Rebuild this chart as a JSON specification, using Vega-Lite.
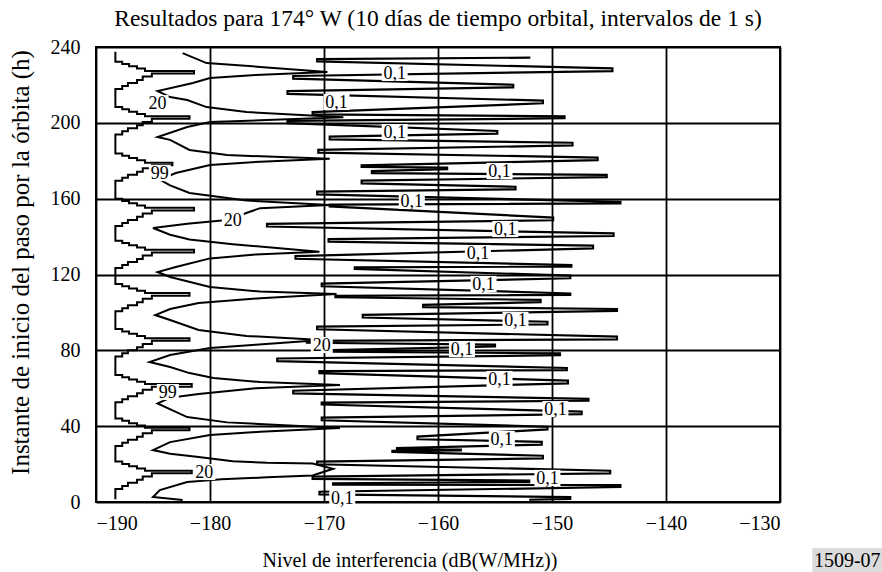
{
  "$schema": "https://vega.github.io/schema/vega-lite/v6.json",
  "width": 684,
  "height": 455,
  "autosize": {"type": "none"},
  "padding": {"left": 96, "top": 47, "right": 102, "bottom": 70},
  "background": "white",
  "title": {"text": "Resultados para 174° W (10 días de tiempo orbital, intervalos de 1 s)", "font": "Liberation Serif", "fontSize": 23.5, "fontWeight": "normal", "color": "black", "anchor": "middle", "offset": 7},
  "config": {
    "font": "Liberation Serif",
    "view": {"stroke": "black", "strokeWidth": 2},
    "axis": {"grid": true, "gridColor": "black", "gridWidth": 1.8, "gridOpacity": 1, "domain": false, "ticks": false, "labelFont": "Liberation Serif", "labelFontSize": 20, "labelColor": "black", "titleFont": "Liberation Serif", "titleFontSize": 20, "titleFontWeight": "normal", "titleColor": "black"}
  },
  "datasets": {
    "c99": [
      {"i":0,"x":-188.3,"h":237.5},
      {"i":1,"x":-188.3,"h":232.2},{"i":2,"x":-187.7,"h":231},{"i":3,"x":-187.1,"h":229.8},{"i":4,"x":-186.4,"h":228.6},{"i":5,"x":-185.7,"h":227.4},{"i":6,"x":-181.4,"h":226},{"i":7,"x":-185.1,"h":224.4},{"i":8,"x":-185.9,"h":222.6},{"i":9,"x":-186.4,"h":221},{"i":10,"x":-187.2,"h":219.4},{"i":11,"x":-187.7,"h":217.8},
      {"i":12,"x":-188.3,"h":208.3},{"i":13,"x":-187.7,"h":207.1},{"i":14,"x":-187.1,"h":205.9},{"i":15,"x":-186.4,"h":204.7},{"i":16,"x":-185.7,"h":203.5},{"i":17,"x":-181.8,"h":202.1},{"i":18,"x":-185.1,"h":200.5},{"i":19,"x":-185.9,"h":198.7},{"i":20,"x":-186.4,"h":197.1},{"i":21,"x":-187.2,"h":195.5},{"i":22,"x":-187.7,"h":193.9},
      {"i":23,"x":-188.3,"h":183.8},{"i":24,"x":-187.7,"h":182.6},{"i":25,"x":-187.1,"h":181.4},{"i":26,"x":-186.4,"h":180.2},{"i":27,"x":-185.7,"h":179},{"i":28,"x":-183.3,"h":177.6},{"i":29,"x":-185.1,"h":176},{"i":30,"x":-185.9,"h":174.2},{"i":31,"x":-186.4,"h":172.6},{"i":32,"x":-187.2,"h":171},{"i":33,"x":-187.7,"h":169.4},
      {"i":34,"x":-188.3,"h":160},{"i":35,"x":-187.7,"h":158.8},{"i":36,"x":-187.1,"h":157.6},{"i":37,"x":-186.4,"h":156.4},{"i":38,"x":-185.7,"h":155.2},{"i":39,"x":-181.4,"h":153.8},{"i":40,"x":-185.1,"h":152.2},{"i":41,"x":-185.9,"h":150.4},{"i":42,"x":-186.4,"h":148.8},{"i":43,"x":-187.2,"h":147.2},{"i":44,"x":-187.7,"h":145.6},
      {"i":45,"x":-188.3,"h":137.8},{"i":46,"x":-187.7,"h":136.6},{"i":47,"x":-187.1,"h":135.4},{"i":48,"x":-186.4,"h":134.2},{"i":49,"x":-185.7,"h":133},{"i":50,"x":-181.4,"h":131.6},{"i":51,"x":-185.1,"h":130},{"i":52,"x":-185.9,"h":128.2},{"i":53,"x":-186.4,"h":126.6},{"i":54,"x":-187.2,"h":125},{"i":55,"x":-187.7,"h":123.4},
      {"i":56,"x":-188.3,"h":115},{"i":57,"x":-187.7,"h":113.8},{"i":58,"x":-187.1,"h":112.6},{"i":59,"x":-186.4,"h":111.4},{"i":60,"x":-185.7,"h":110.2},{"i":61,"x":-181.8,"h":108.8},{"i":62,"x":-185.1,"h":107.2},{"i":63,"x":-185.9,"h":105.4},{"i":64,"x":-186.4,"h":103.8},{"i":65,"x":-187.2,"h":102.2},{"i":66,"x":-187.7,"h":100.6},
      {"i":67,"x":-188.3,"h":91.2},{"i":68,"x":-187.7,"h":90},{"i":69,"x":-187.1,"h":88.8},{"i":70,"x":-186.4,"h":87.6},{"i":71,"x":-185.7,"h":86.4},{"i":72,"x":-181.8,"h":85},{"i":73,"x":-185.1,"h":83.4},{"i":74,"x":-185.9,"h":81.6},{"i":75,"x":-186.4,"h":80},{"i":76,"x":-187.2,"h":78.4},{"i":77,"x":-187.7,"h":76.8},
      {"i":78,"x":-188.3,"h":67},{"i":79,"x":-187.7,"h":65.8},{"i":80,"x":-187.1,"h":64.6},{"i":81,"x":-186.4,"h":63.4},{"i":82,"x":-185.7,"h":62.2},{"i":83,"x":-181.6,"h":60.8},{"i":84,"x":-185.1,"h":59.2},{"i":85,"x":-185.9,"h":57.4},{"i":86,"x":-186.4,"h":55.8},{"i":87,"x":-187.2,"h":54.2},{"i":88,"x":-187.7,"h":52.6},
      {"i":89,"x":-188.3,"h":44},{"i":90,"x":-187.7,"h":42.8},{"i":91,"x":-187.1,"h":41.6},{"i":92,"x":-186.4,"h":40.4},{"i":93,"x":-185.7,"h":39.2},{"i":94,"x":-181.8,"h":37.8},{"i":95,"x":-185.1,"h":36.2},{"i":96,"x":-185.9,"h":34.4},{"i":97,"x":-186.4,"h":32.8},{"i":98,"x":-187.2,"h":31.2},{"i":99,"x":-187.7,"h":29.6},
      {"i":100,"x":-188.3,"h":21.3},{"i":101,"x":-187.7,"h":20.1},{"i":102,"x":-187.1,"h":18.9},{"i":103,"x":-186.4,"h":17.7},{"i":104,"x":-185.7,"h":16.5},{"i":105,"x":-181.6,"h":15.1},{"i":106,"x":-185.1,"h":13.5},{"i":107,"x":-185.9,"h":11.7},{"i":108,"x":-186.4,"h":10.1},{"i":109,"x":-187.2,"h":8.5},{"i":110,"x":-187.7,"h":6.9},
      {"i":111,"x":-188.3,"h":1.5}
    ],
    "c20": [
      {"i":1,"x":-182.4,"h":236.8},{"i":2,"x":-180.3,"h":231.5},{"i":3,"x":-175.6,"h":229.5},{"i":4,"x":-169.7,"h":226.8},{"i":5,"x":-176.0,"h":225.2},{"i":6,"x":-180.0,"h":223.6},{"i":7,"x":-181.5,"h":221.0},{"i":8,"x":-184.6,"h":216.8},{"i":9,"x":-183.5,"h":213.6},{"i":10,"x":-182.0,"h":212.0},
      {"i":11,"x":-180.3,"h":208.3},{"i":12,"x":-176.8,"h":205.7},{"i":13,"x":-168.3,"h":203.0},{"i":14,"x":-175.0,"h":201.5},{"i":15,"x":-180.0,"h":200.4},{"i":16,"x":-182.0,"h":197.8},{"i":17,"x":-184.6,"h":192.5},{"i":18,"x":-183.5,"h":191.0},{"i":19,"x":-181.8,"h":185.7},{"i":20,"x":-178.5,"h":183.0},
      {"i":21,"x":-169.5,"h":181.0},{"i":22,"x":-175.6,"h":179.5},{"i":23,"x":-180.0,"h":177.7},{"i":24,"x":-183.0,"h":173.5},{"i":25,"x":-184.4,"h":170.0},{"i":26,"x":-183.5,"h":167.0},{"i":27,"x":-181.8,"h":163.0},{"i":28,"x":-176.8,"h":159.0},{"i":29,"x":-169.5,"h":156.6},{"i":30,"x":-175.6,"h":155.0},
      {"i":31,"x":-177.5,"h":151.0},{"i":32,"x":-178.5,"h":148.7},{"i":33,"x":-182.0,"h":146.8},{"i":34,"x":-185.0,"h":144.5},{"i":35,"x":-183.5,"h":141.0},{"i":36,"x":-181.8,"h":138.5},{"i":37,"x":-178.0,"h":136.0},{"i":38,"x":-170.4,"h":132.0},{"i":39,"x":-176.0,"h":130.5},{"i":40,"x":-180.0,"h":128.5},
      {"i":41,"x":-183.0,"h":124.0},{"i":42,"x":-184.6,"h":121.3},{"i":43,"x":-183.5,"h":118.7},{"i":44,"x":-180.0,"h":113.4},{"i":45,"x":-175.6,"h":111.0},{"i":46,"x":-168.9,"h":109.7},{"i":47,"x":-175.6,"h":107.5},{"i":48,"x":-181.0,"h":105.0},{"i":49,"x":-183.5,"h":101.8},{"i":50,"x":-184.8,"h":98.6},
      {"i":51,"x":-183.5,"h":96.0},{"i":52,"x":-181.0,"h":90.7},{"i":53,"x":-176.8,"h":87.6},{"i":54,"x":-170.2,"h":85.5},{"i":55,"x":-176.0,"h":83.0},{"i":56,"x":-180.0,"h":81.2},{"i":57,"x":-183.5,"h":77.5},{"i":58,"x":-185.3,"h":73.8},{"i":59,"x":-183.5,"h":71.2},{"i":60,"x":-181.8,"h":68.0},
      {"i":61,"x":-179.7,"h":65.4},{"i":62,"x":-175.6,"h":63.3},{"i":63,"x":-168.6,"h":61.7},{"i":64,"x":-176.0,"h":60.0},{"i":65,"x":-181.0,"h":57.0},{"i":66,"x":-183.5,"h":55.0},{"i":67,"x":-184.6,"h":52.0},{"i":68,"x":-182.0,"h":44.8},{"i":69,"x":-178.5,"h":42.0},{"i":70,"x":-168.6,"h":39.0},
      {"i":71,"x":-175.6,"h":37.0},{"i":72,"x":-180.0,"h":35.3},{"i":73,"x":-183.5,"h":31.6},{"i":74,"x":-185.0,"h":27.4},{"i":75,"x":-183.5,"h":25.5},{"i":76,"x":-181.0,"h":23.7},{"i":77,"x":-178.0,"h":21.5},{"i":78,"x":-175.0,"h":20.7},{"i":79,"x":-171.0,"h":20.3},{"i":80,"x":-169.2,"h":17.5},
      {"i":81,"x":-171.0,"h":14.0},{"i":82,"x":-175.0,"h":13.0},{"i":83,"x":-179.0,"h":12.0},{"i":84,"x":-182.0,"h":10.5},{"i":85,"x":-184.4,"h":6.3},{"i":86,"x":-185.0,"h":2.6},{"i":87,"x":-182.4,"h":1.0}
    ],
    "c01": [
      {"i":1,"x":-151.9,"h":234.4},
      {"i":2,"x":-170.6,"h":233.6},{"i":3,"x":-170.6,"h":232.4},
      {"i":4,"x":-144.7,"h":228.7},{"i":5,"x":-144.7,"h":227.3},
      {"i":6,"x":-172.7,"h":224.7},{"i":7,"x":-172.7,"h":223.3},
      {"i":8,"x":-153.4,"h":220.1},{"i":9,"x":-153.4,"h":218.7},
      {"i":10,"x":-173.2,"h":216.7},{"i":11,"x":-173.2,"h":215.3},
      {"i":12,"x":-150.8,"h":211.7},{"i":13,"x":-150.8,"h":210.3},
      {"i":14,"x":-171.0,"h":205.7},{"i":15,"x":-171.0,"h":204.5},
      {"i":16,"x":-148.9,"h":203.4},{"i":17,"x":-148.9,"h":202.4},
      {"i":18,"x":-173.2,"h":201.0},{"i":19,"x":-173.2,"h":199.8},
      {"i":20,"x":-154.8,"h":195.7},{"i":21,"x":-154.8,"h":194.3},
      {"i":22,"x":-169.5,"h":192.7},{"i":23,"x":-169.5,"h":191.3},
      {"i":24,"x":-148.2,"h":189.5},{"i":25,"x":-148.2,"h":188.1},
      {"i":26,"x":-170.5,"h":185.7},{"i":27,"x":-170.5,"h":184.3},
      {"i":28,"x":-146.0,"h":181.7},{"i":29,"x":-146.0,"h":180.3},
      {"i":30,"x":-166.7,"h":177.6},{"i":31,"x":-166.7,"h":176.8},
      {"i":32,"x":-159.2,"h":176.4},{"i":33,"x":-159.2,"h":175.6},
      {"i":34,"x":-165.8,"h":174.5},{"i":35,"x":-165.8,"h":173.5},
      {"i":36,"x":-145.2,"h":172.6},{"i":37,"x":-145.2,"h":171.4},
      {"i":38,"x":-166.7,"h":169.5},{"i":39,"x":-166.7,"h":168.1},
      {"i":40,"x":-153.2,"h":166.3},{"i":41,"x":-153.2,"h":164.9},
      {"i":42,"x":-170.6,"h":163.7},{"i":43,"x":-170.6,"h":162.3},
      {"i":44,"x":-144.0,"h":158.3},{"i":45,"x":-144.0,"h":157.5},
      {"i":46,"x":-169.5,"h":156.9},{"i":47,"x":-169.5,"h":155.9},
      {"i":48,"x":-149.9,"h":150.0},{"i":49,"x":-149.9,"h":148.6},
      {"i":50,"x":-175.0,"h":146.7},{"i":51,"x":-175.0,"h":145.3},
      {"i":52,"x":-144.6,"h":141.7},{"i":53,"x":-144.6,"h":140.3},
      {"i":54,"x":-169.6,"h":138.7},{"i":55,"x":-169.6,"h":137.3},
      {"i":56,"x":-146.4,"h":135.2},{"i":57,"x":-146.4,"h":133.8},
      {"i":58,"x":-172.5,"h":129.7},{"i":59,"x":-172.5,"h":128.3},
      {"i":60,"x":-148.3,"h":125.0},{"i":61,"x":-148.3,"h":124.2},
      {"i":62,"x":-167.3,"h":123.8},{"i":63,"x":-167.3,"h":123.0},
      {"i":64,"x":-148.4,"h":119.4},{"i":65,"x":-148.4,"h":118.0},
      {"i":66,"x":-170.2,"h":115.2},{"i":67,"x":-170.2,"h":113.8},
      {"i":68,"x":-148.4,"h":110.0},{"i":69,"x":-148.4,"h":109.2},
      {"i":70,"x":-169.0,"h":108.8},{"i":71,"x":-169.0,"h":108.0},
      {"i":72,"x":-151.0,"h":106.6},{"i":73,"x":-151.0,"h":105.4},
      {"i":74,"x":-161.3,"h":104.0},{"i":75,"x":-161.3,"h":102.8},
      {"i":76,"x":-144.3,"h":101.8},{"i":77,"x":-144.3,"h":100.8},
      {"i":78,"x":-166.6,"h":98.7},{"i":79,"x":-166.6,"h":97.3},
      {"i":80,"x":-150.4,"h":95.1},{"i":81,"x":-150.4,"h":93.7},
      {"i":82,"x":-170.6,"h":92.5},{"i":83,"x":-170.6,"h":91.1},
      {"i":84,"x":-144.3,"h":87.2},{"i":85,"x":-144.3,"h":85.8},
      {"i":86,"x":-171.5,"h":85.0},{"i":87,"x":-171.5,"h":84.0},
      {"i":88,"x":-155.0,"h":83.0},{"i":89,"x":-155.0,"h":82.0},
      {"i":90,"x":-169.3,"h":80.1},{"i":91,"x":-169.3,"h":79.3},
      {"i":92,"x":-149.3,"h":78.4},{"i":93,"x":-149.3,"h":77.4},
      {"i":94,"x":-174.1,"h":75.7},{"i":95,"x":-174.1,"h":74.3},
      {"i":96,"x":-148.7,"h":70.7},{"i":97,"x":-148.7,"h":69.5},
      {"i":98,"x":-170.4,"h":69.0},{"i":99,"x":-170.4,"h":68.0},
      {"i":100,"x":-148.6,"h":64.0},{"i":101,"x":-148.6,"h":62.6},
      {"i":102,"x":-172.7,"h":58.7},{"i":103,"x":-172.7,"h":57.3},
      {"i":104,"x":-146.8,"h":54.4},{"i":105,"x":-146.8,"h":53.4},
      {"i":106,"x":-170.2,"h":52.4},{"i":107,"x":-170.2,"h":51.4},
      {"i":108,"x":-147.4,"h":47.7},{"i":109,"x":-147.4,"h":46.3},
      {"i":110,"x":-170.2,"h":44.5},{"i":111,"x":-170.2,"h":43.1},
      {"i":112,"x":-150.4,"h":39.7},{"i":113,"x":-150.4,"h":38.3},
      {"i":114,"x":-161.8,"h":34.5},{"i":115,"x":-161.8,"h":33.1},
      {"i":116,"x":-150.9,"h":31.7},{"i":117,"x":-150.9,"h":30.3},
      {"i":118,"x":-163.6,"h":28.4},{"i":119,"x":-163.6,"h":27.8},
      {"i":120,"x":-158.0,"h":27.6},{"i":121,"x":-158.0,"h":27.2},
      {"i":122,"x":-164.0,"h":27.0},{"i":123,"x":-164.0,"h":26.4},
      {"i":124,"x":-150.8,"h":24.4},{"i":125,"x":-150.8,"h":23.0},
      {"i":126,"x":-170.6,"h":21.3},{"i":127,"x":-170.6,"h":19.9},
      {"i":128,"x":-144.9,"h":16.5},{"i":129,"x":-144.9,"h":15.1},
      {"i":130,"x":-171.0,"h":13.4},{"i":131,"x":-171.0,"h":12.2},
      {"i":132,"x":-152.0,"h":11.3},{"i":133,"x":-152.0,"h":10.5},
      {"i":134,"x":-169.2,"h":9.9},{"i":135,"x":-169.2,"h":9.1},
      {"i":136,"x":-144.0,"h":8.9},{"i":137,"x":-144.0,"h":7.9},
      {"i":138,"x":-170.4,"h":5.4},{"i":139,"x":-170.4,"h":4.0},
      {"i":140,"x":-148.4,"h":2.6},{"i":141,"x":-148.4,"h":1.6},
      {"i":142,"x":-152.0,"h":1.2}
    ],
    "labels": [
      {"t":"0,1","x":-163.8,"h":226.3},{"t":"0,1","x":-168.9,"h":211.0},{"t":"0,1","x":-163.8,"h":195.1},{"t":"0,1","x":-154.6,"h":174.6},{"t":"0,1","x":-162.3,"h":158.8},
      {"t":"0,1","x":-154.1,"h":144.0},{"t":"0,1","x":-156.5,"h":131.3},{"t":"0,1","x":-156.0,"h":115.0},{"t":"0,1","x":-153.2,"h":96.0},{"t":"0,1","x":-157.9,"h":80.7},
      {"t":"0,1","x":-154.6,"h":64.9},{"t":"0,1","x":-149.7,"h":49.0},{"t":"0,1","x":-154.4,"h":33.2},{"t":"0,1","x":-150.4,"h":12.7},{"t":"0,1","x":-168.4,"h":2.1},
      {"t":"20","x":-184.6,"h":210.4},{"t":"20","x":-178.0,"h":148.7},{"t":"20","x":-170.2,"h":82.8},{"t":"20","x":-180.5,"h":15.8},
      {"t":"99","x":-184.4,"h":173.5},{"t":"99","x":-183.7,"h":58.0}
    ],
    "figid": [{"t":"1509-07","x":-124.1,"h":-30.6}]
  },
  "layer": [
    {
      "data": {"name": "c99"},
      "mark": {"type": "line", "interpolate": "step-after", "stroke": "black", "strokeWidth": 2},
      "encoding": {
        "x": {"field": "x", "type": "quantitative", "scale": {"domain": [-190, -130], "nice": false, "zero": false}, "axis": {"title": "Nivel de interferencia (dB(W/MHz))", "values": [-190, -180, -170, -160, -150, -140, -130], "labelFont": "Liberation Serif", "titleFont": "Liberation Serif", "labelFontSize": 20, "titleFontSize": 20, "labelPadding": 11, "titleX": 166, "titleAlign": "left", "titleY": 58, "titleBaseline": "middle"}},
        "y": {"field": "h", "type": "quantitative", "scale": {"domain": [0, 240], "nice": false, "zero": false}, "axis": {"title": "Instante de inicio del paso por la órbita (h)", "values": [0, 20, 40, 60, 80, 100, 120, 140, 160, 180, 200, 220, 240], "labelFont": "Liberation Serif", "titleFont": "Liberation Serif", "labelFontSize": 20, "titleFontSize": 25, "labelPadding": 16, "titleX": -76, "titleY": 215, "titleAngle": -90, "titleBaseline": "middle", "titleAlign": "center"}},
        "order": {"field": "i", "type": "quantitative"}
      }
    },
    {
      "data": {"name": "c20"},
      "mark": {"type": "line", "stroke": "black", "strokeWidth": 2},
      "encoding": {
        "x": {"field": "x", "type": "quantitative"},
        "y": {"field": "h", "type": "quantitative"},
        "order": {"field": "i", "type": "quantitative"}
      }
    },
    {
      "data": {"name": "c01"},
      "mark": {"type": "line", "stroke": "black", "strokeWidth": 2.2},
      "encoding": {
        "x": {"field": "x", "type": "quantitative"},
        "y": {"field": "h", "type": "quantitative"},
        "order": {"field": "i", "type": "quantitative"}
      }
    },
    {
      "mark": {"type": "rule", "stroke": "black", "strokeWidth": 4},
      "encoding": {"x": {"datum": -148.2, "type": "quantitative"}}
    },
    {
      "data": {"name": "labels"},
      "mark": {"type": "point", "filled": true, "color": "white", "opacity": 1, "strokeWidth": 0},
      "encoding": {
        "x": {"field": "x", "type": "quantitative"},
        "y": {"field": "h", "type": "quantitative"},
        "shape": {"condition": {"test": "datum.t == '0,1'", "value": "M-1,-0.62L1,-0.62L1,0.62L-1,0.62Z"}, "value": "M-1,-0.73L1,-0.73L1,0.73L-1,0.73Z"},
        "size": {"condition": {"test": "datum.t == '0,1'", "value": 676}, "value": 484}
      }
    },
    {
      "data": {"name": "labels"},
      "mark": {"type": "text", "font": "Liberation Serif", "fontSize": 18, "color": "black", "align": "center", "baseline": "middle", "dy": 1},
      "encoding": {
        "x": {"field": "x", "type": "quantitative"},
        "y": {"field": "h", "type": "quantitative"},
        "text": {"field": "t"}
      }
    },
    {
      "data": {"name": "figid"},
      "mark": {"type": "point", "filled": true, "color": "#dcdcdc", "opacity": 1, "strokeWidth": 0, "shape": "M-1,-0.34L1,-0.34L1,0.34L-1,0.34Z", "size": 4900},
      "encoding": {
        "x": {"field": "x", "type": "quantitative"},
        "y": {"field": "h", "type": "quantitative"}
      }
    },
    {
      "data": {"name": "figid"},
      "mark": {"type": "text", "font": "Liberation Serif", "fontSize": 20, "color": "black", "align": "center", "baseline": "middle", "dy": 1},
      "encoding": {
        "x": {"field": "x", "type": "quantitative"},
        "y": {"field": "h", "type": "quantitative"},
        "text": {"field": "t"}
      }
    }
  ]
}
